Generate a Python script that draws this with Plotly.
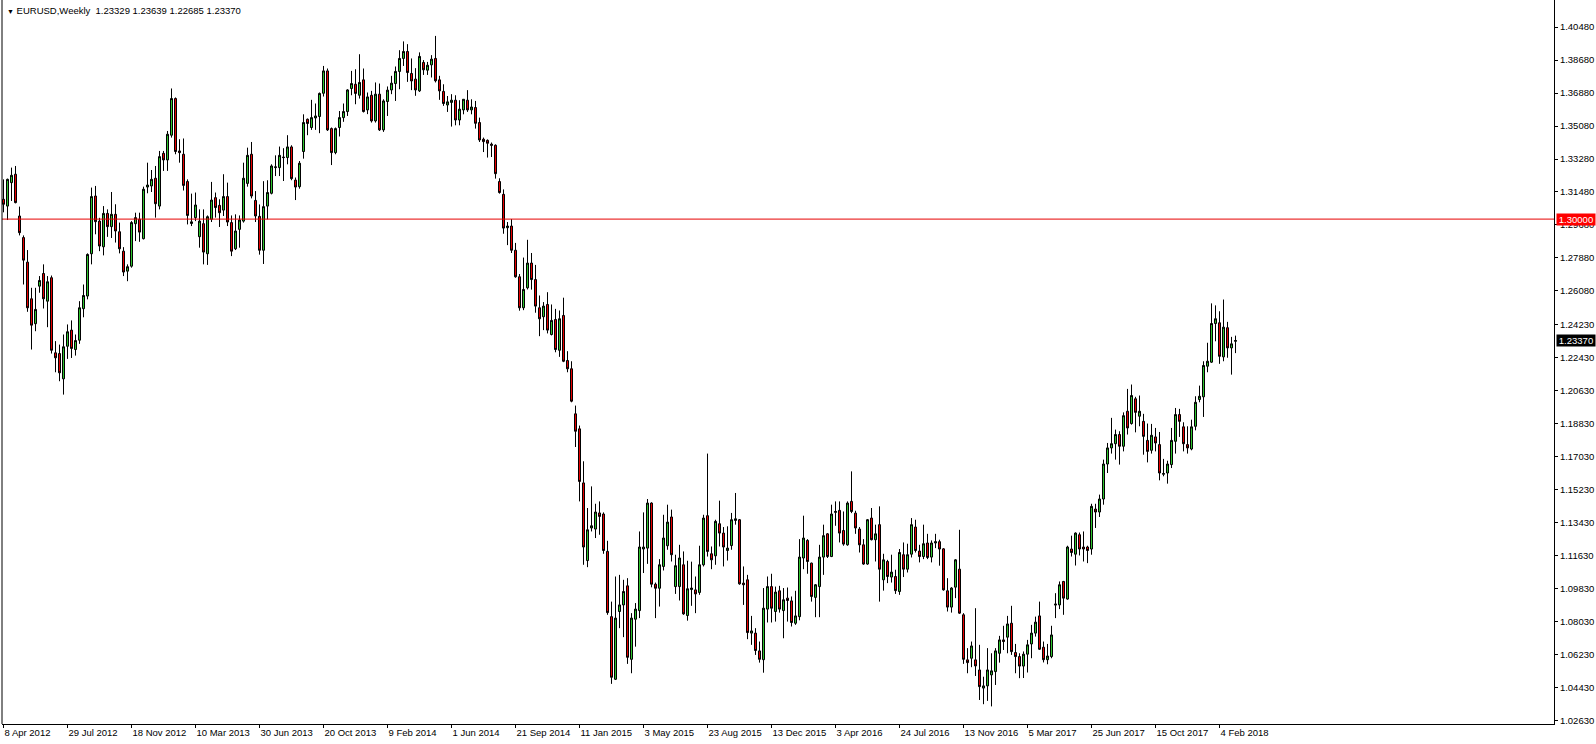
import pandas as pd
import plotly.graph_objects as go

# ---- data (EURUSD weekly) ----
weeks = pd.date_range("2012-04-08", periods=309, freq="7D")

opens = [
1.3108,1.3071,1.3199,1.3245,1.3017,1.2899,1.2765,1.2565,1.2429,1.2634,
1.2703,1.2552,1.2680,1.2270,1.2266,1.2128,1.2306,1.2394,1.2288,1.2339,
1.2511,1.2580,1.2811,1.3126,1.2989,1.2849,1.3031,1.2959,1.3026,1.2931,
1.2825,1.2716,1.2743,1.2975,1.2999,1.2893,1.3175,1.3181,1.3223,1.3071,
1.3359,1.3323,1.3458,1.3658,1.3372,1.3354,1.3205,1.2976,1.3008,1.2904,
1.2975,1.2811,1.2999,1.3117,1.3075,1.3049,1.3123,1.2981,1.2838,1.2944,
1.2989,1.3195,1.3354,1.3102,1.3015,1.2830,1.3071,1.3141,1.3281,1.3281,
1.3339,1.3336,1.3394,1.3213,1.3177,1.3369,1.3545,1.3500,1.3552,1.3560,
1.3687,1.3809,1.3494,1.3363,1.3500,1.3554,1.3587,1.3713,1.3736,1.3676,
1.3760,1.3596,1.3676,1.3536,1.3682,1.3487,1.3642,1.3705,1.3740,1.3806,
1.3877,1.3915,1.3795,1.3764,1.3700,1.3855,1.3813,1.3842,1.3877,1.3760,
1.3697,1.3623,1.3637,1.3649,1.3541,1.3596,1.3649,1.3596,1.3609,1.3527,
1.3436,1.3430,1.3409,1.3403,1.3205,1.3135,1.2953,1.2962,1.2830,1.2685,
1.2516,1.2625,1.2760,1.2670,1.2516,1.2467,1.2534,1.2370,1.2452,1.2284,
1.2474,1.2228,1.2183,1.1937,1.1855,1.1560,1.1136,1.1314,1.1308,1.1396,
1.1390,1.1186,1.0830,1.0488,1.0858,1.0894,1.0998,1.0597,1.0816,1.0863,
1.1199,1.1204,1.1450,1.1007,1.0985,1.1104,1.1217,1.1374,1.0994,1.0994,
1.1113,1.0836,1.0978,1.0976,1.0962,1.1113,1.1381,1.1173,1.1162,1.1337,
1.1286,1.1191,1.1218,1.1355,1.1359,1.1013,1.1031,1.0740,1.0740,1.0643,
1.0595,1.0871,1.0994,1.0858,1.0971,1.0863,1.0931,1.0916,1.0794,1.0830,
1.1150,1.1246,1.1122,1.0935,1.0994,1.1155,1.1282,1.1158,1.1399,1.1410,
1.1300,1.1222,1.1459,1.1395,1.1308,1.1222,1.1117,1.1368,1.1250,1.1332,
1.1031,1.1131,1.1046,1.1049,1.0967,1.1168,1.1089,1.1171,1.1319,1.1188,
1.1158,1.1232,1.1155,1.1232,1.1239,1.1200,1.0971,1.0882,1.0991,1.1089,
1.0840,1.0594,1.0603,1.0594,1.0539,1.0440,1.0452,1.0512,1.0530,1.0630,
1.0703,1.0718,1.0794,1.0634,1.0612,1.0560,1.0625,1.0681,1.0740,1.0834,
1.0663,1.0595,1.0612,1.0893,1.0894,1.1022,1.0926,1.1199,1.1171,1.1277,
1.1210,1.1210,1.1199,1.1417,1.1401,1.1472,1.1663,1.1751,1.1774,1.1824,
1.1760,1.1951,1.1884,1.2019,1.1924,1.1896,1.1792,1.1738,1.1811,1.1769,
1.1607,1.1614,1.1660,1.1787,1.1933,1.1866,1.1769,1.1745,1.1869,1.2015,
1.2030,1.2197,1.2219,1.2430,1.2434,1.2248,1.2407,1.2297,1.23329]

highs = [
1.3217,1.3221,1.3281,1.3290,1.3068,1.2911,1.2831,1.2625,1.2625,1.2689,
1.2753,1.2689,1.2692,1.2334,1.2315,1.2370,1.2425,1.2447,1.2370,1.2552,
1.2643,1.2813,1.3172,1.3181,1.3007,1.3071,1.3053,1.3148,1.3081,1.2981,
1.2847,1.2753,1.2989,1.3035,1.3035,1.3177,1.3308,1.3268,1.3290,1.3372,
1.3372,1.3481,1.3713,1.3664,1.3436,1.3440,1.3217,1.3139,1.3145,1.3053,
1.3053,1.3020,1.3203,1.3145,1.3108,1.3245,1.3199,1.3020,1.3026,1.3020,
1.3308,1.3390,1.3421,1.3153,1.3080,1.3207,1.3212,1.3299,1.3348,1.3396,
1.3387,1.3458,1.3403,1.3227,1.3317,1.3572,1.3549,1.3651,1.3631,1.3691,
1.3836,1.3822,1.3500,1.3500,1.3590,1.3631,1.3709,1.3809,1.3818,1.3900,
1.3822,1.3691,1.3700,1.3746,1.3740,1.3654,1.3724,1.3782,1.3833,1.3922,
1.3970,1.3955,1.3877,1.3824,1.3910,1.3868,1.3858,1.3895,1.4000,1.3782,
1.3736,1.3672,1.3682,1.3676,1.3649,1.3654,1.3704,1.3654,1.3645,1.3554,
1.3445,1.3435,1.3418,1.3408,1.3223,1.3162,1.2984,1.3000,1.2870,1.2700,
1.2790,1.2887,1.2815,1.2750,1.2583,1.2547,1.2601,1.2534,1.2510,1.2501,
1.2571,1.2279,1.2224,1.1982,1.1873,1.1678,1.1423,1.1541,1.1446,1.1459,
1.1399,1.1244,1.0912,1.1049,1.1058,1.1031,1.1040,1.0849,1.0904,1.1295,
1.1399,1.1472,1.1454,1.1016,1.1144,1.1386,1.1441,1.1414,1.1168,1.1222,
1.1186,1.1135,1.1130,1.1049,1.1217,1.1386,1.1720,1.1213,1.1359,1.1463,
1.1319,1.1323,1.1396,1.1505,1.1363,1.1104,1.1058,1.0834,1.0767,1.0694,
1.0986,1.1049,1.1064,1.0994,1.0998,1.0986,1.0989,1.0940,1.0971,1.1253,
1.1381,1.1253,1.1125,1.1008,1.1222,1.1332,1.1286,1.1441,1.1459,1.1459,
1.1404,1.1459,1.1623,1.1408,1.1319,1.1253,1.1363,1.1423,1.1332,1.1432,
1.1173,1.1140,1.1168,1.1086,1.1199,1.1235,1.1228,1.1368,1.1359,1.1222,
1.1332,1.1282,1.1246,1.1282,1.1250,1.1204,1.1040,1.0991,1.1144,1.1304,
1.0849,1.0658,1.0694,1.0876,1.0676,1.0502,1.0658,1.0630,1.0658,1.0725,
1.0780,1.0834,1.0889,1.0681,1.0630,1.0640,1.0703,1.0785,1.0830,1.0912,
1.0694,1.0681,1.0780,1.0958,1.1022,1.1025,1.1217,1.1272,1.1290,1.1289,
1.1295,1.1217,1.1446,1.1446,1.1496,1.1687,1.1778,1.1915,1.1851,1.1842,
1.1945,1.2073,1.2097,1.2030,1.2037,1.1937,1.1884,1.1882,1.1860,1.1838,
1.1691,1.1681,1.1860,1.1969,1.1964,1.1891,1.1869,1.1905,1.2033,1.2091,
1.2224,1.2325,1.2540,1.2529,1.2497,1.2561,1.2439,1.2357,1.23639]

lows = [
1.3037,1.2995,1.3099,1.3086,1.2911,1.2643,1.2494,1.2288,1.2388,1.2598,
1.2512,1.2410,1.2266,1.2164,1.2115,1.2042,1.2237,1.2242,1.2255,1.2319,
1.2464,1.2562,1.2753,1.2917,1.2825,1.2802,1.2903,1.2897,1.2872,1.2813,
1.2689,1.2661,1.2735,1.2880,1.2876,1.2889,1.3141,1.3148,1.3008,1.3053,
1.3263,1.3263,1.3445,1.3354,1.3308,1.3156,1.2971,1.2962,1.2989,1.2844,
1.2753,1.2750,1.2984,1.3008,1.2957,1.3017,1.2962,1.2798,1.2831,1.2844,
1.2981,1.3177,1.3113,1.2984,1.2806,1.2755,1.2999,1.3135,1.3235,1.3235,
1.3208,1.3299,1.3212,1.3104,1.3166,1.3330,1.3458,1.3487,1.3487,1.3469,
1.3669,1.3481,1.3295,1.3354,1.3451,1.3531,1.3563,1.3676,1.3627,1.3658,
1.3582,1.3573,1.3527,1.3527,1.3481,1.3476,1.3563,1.3682,1.3645,1.3709,
1.3836,1.3749,1.3704,1.3673,1.3694,1.3787,1.3787,1.3773,1.3746,1.3651,
1.3618,1.3585,1.3505,1.3512,1.3512,1.3572,1.3585,1.3572,1.3494,1.3421,
1.3366,1.3336,1.3339,1.3221,1.3139,1.2920,1.2858,1.2815,1.2680,1.2500,
1.2503,1.2616,1.2615,1.2489,1.2361,1.2394,1.2376,1.2365,1.2273,1.2248,
1.2219,1.2164,1.2000,1.1756,1.1459,1.1113,1.1100,1.1295,1.1259,1.1277,
1.1173,1.0840,1.0463,1.0484,1.0767,1.0718,1.0572,1.0521,1.0666,1.0822,
1.1068,1.1118,1.0990,1.0822,1.0885,1.1082,1.1195,1.1131,1.0954,1.0918,
1.0840,1.0808,1.0889,1.0849,1.0949,1.1104,1.1158,1.1089,1.1113,1.1213,
1.1104,1.1136,1.1195,1.1332,1.1004,1.0894,1.0707,1.0676,1.0621,1.0579,
1.0524,1.0798,1.0798,1.0803,1.0852,1.0712,1.0803,1.0776,1.0785,1.0810,
1.1089,1.1064,1.0912,1.0827,1.0827,1.1058,1.1150,1.1155,1.1326,1.1235,
1.1217,1.1217,1.1395,1.1282,1.1180,1.1113,1.1113,1.1246,1.1131,1.0912,
1.0972,1.1013,1.1016,1.0954,1.0949,1.1046,1.1071,1.1153,1.1180,1.1126,
1.1144,1.1144,1.1126,1.1204,1.1108,1.0972,1.0858,1.0852,1.0931,1.0845,
1.0572,1.0521,1.0554,1.0506,1.0375,1.0352,1.0370,1.0340,1.0457,1.0579,
1.0648,1.0630,1.0621,1.0521,1.0494,1.0495,1.0525,1.0603,1.0721,1.0648,
1.0580,1.0570,1.0603,1.0822,1.0871,1.0840,1.0922,1.1158,1.1109,1.1164,
1.1131,1.1122,1.1168,1.1314,1.1374,1.1441,1.1614,1.1720,1.1687,1.1660,
1.1732,1.1824,1.1878,1.1836,1.1869,1.1714,1.1672,1.1720,1.1732,1.1574,
1.1596,1.1556,1.1641,1.1720,1.1811,1.1732,1.1720,1.1738,1.1847,1.2000,
1.1920,1.2164,1.2215,1.2333,1.2210,1.2224,1.2243,1.2151,1.22685]

closes = [
1.3081,1.3217,1.3239,1.3090,1.2926,1.2776,1.2516,1.2421,1.2507,1.2665,
1.2565,1.2658,1.2284,1.2243,1.2161,1.2303,1.2385,1.2294,1.2337,1.2516,
1.2583,1.2807,1.3123,1.2986,1.2853,1.3031,1.2959,1.3026,1.2935,1.2838,
1.2711,1.2740,1.2981,1.3008,1.2929,1.3163,1.3186,1.3217,1.3084,1.3341,
1.3323,1.3463,1.3658,1.3369,1.3363,1.3184,1.3020,1.2985,1.3077,1.2989,
1.2820,1.3013,1.3104,1.3063,1.3035,1.3123,1.2984,1.2825,1.2935,1.2995,
1.3223,1.3348,1.3126,1.3017,1.2830,1.3068,1.3145,1.3290,1.3285,1.3348,
1.3336,1.3394,1.3221,1.3175,1.3305,1.3527,1.3522,1.3554,1.3563,1.3686,
1.3809,1.3487,1.3363,1.3494,1.3554,1.3587,1.3705,1.3740,1.3686,1.3746,
1.3587,1.3667,1.3536,1.3682,1.3487,1.3645,1.3704,1.3742,1.3806,1.3877,
1.3915,1.3800,1.3754,1.3705,1.3888,1.3815,1.3840,1.3873,1.3755,1.3700,
1.3631,1.3640,1.3649,1.3541,1.3600,1.3654,1.3596,1.3612,1.3523,1.3432,
1.3423,1.3414,1.3403,1.3248,1.3145,1.2951,1.2962,1.2830,1.2685,1.2516,
1.2616,1.2760,1.2670,1.2525,1.2456,1.2525,1.2394,1.2447,1.2288,1.2456,
1.2224,1.2183,1.2006,1.1842,1.1568,1.1210,1.1304,1.1326,1.1401,1.1377,
1.1191,1.0852,1.0499,1.0822,1.0894,1.0967,1.0608,1.0822,1.0871,1.1210,
1.1210,1.1450,1.1007,1.0985,1.1113,1.1259,1.1346,1.1168,1.1108,1.1150,
1.0845,1.0982,1.0986,1.0954,1.1113,1.1368,1.1186,1.1140,1.1350,1.1286,
1.1210,1.1204,1.1359,1.1364,1.1009,1.1004,1.0743,1.0752,1.0645,1.0597,
1.0876,1.0994,1.0876,1.0964,1.0871,1.0922,1.0918,1.0798,1.0834,1.1155,
1.1259,1.1131,1.0940,1.1004,1.1155,1.1272,1.1158,1.1390,1.1404,1.1286,
1.1226,1.1450,1.1404,1.1314,1.1222,1.1117,1.1359,1.1250,1.1282,1.1089,
1.1140,1.1049,1.1073,1.0972,1.1180,1.1089,1.1168,1.1332,1.1191,1.1158,
1.1228,1.1153,1.1232,1.1239,1.1199,1.0976,1.0882,1.0986,1.1140,1.0849,
1.0597,1.0579,1.0670,1.0561,1.0448,1.0452,1.0539,1.0534,1.0643,1.0703,
1.0694,1.0790,1.0639,1.0612,1.0560,1.0625,1.0676,1.0740,1.0800,1.0652,
1.0595,1.0615,1.0730,1.0898,1.1004,1.0931,1.1210,1.1180,1.1286,1.1199,
1.1199,1.1191,1.1432,1.1401,1.1472,1.1663,1.1751,1.1774,1.1824,1.1760,
1.1927,1.1860,1.2037,1.1945,1.1951,1.1814,1.1732,1.1820,1.1778,1.1614,
1.1611,1.1663,1.1792,1.1933,1.1896,1.1774,1.1751,1.1866,1.2000,1.2033,
1.2201,1.2224,1.2430,1.2456,1.2251,1.2410,1.2297,1.2319,1.23370]

x_tick_labels = ["8 Apr 2012", "29 Jul 2012", "18 Nov 2012", "10 Mar 2013",
                 "30 Jun 2013", "20 Oct 2013", "9 Feb 2014", "1 Jun 2014",
                 "21 Sep 2014", "11 Jan 2015", "3 May 2015", "23 Aug 2015",
                 "13 Dec 2015", "3 Apr 2016", "24 Jul 2016", "13 Nov 2016",
                 "5 Mar 2017", "25 Jun 2017", "15 Oct 2017", "4 Feb 2018"]
y_tick_labels = ["1.40480", "1.38680", "1.36880", "1.35080", "1.33280", "1.31480",
                 "1.29680", "1.27880", "1.26080", "1.24230", "1.22430", "1.20630",
                 "1.18830", "1.17030", "1.15230", "1.13430", "1.11630", "1.09830",
                 "1.08030", "1.06230", "1.04430", "1.02630"]

level_price = 1.30000
header = "EURUSD,Weekly"

# ---- figure ----
idx = list(range(len(weeks)))
week_pos = {d.strftime("%-d %b %Y"): i for i, d in enumerate(weeks)}
x_tick_vals = [week_pos[lbl] for lbl in x_tick_labels]
y_tick_vals = [float(v) for v in y_tick_labels]

FONT = "Liberation Sans, Arial, sans-serif"
GREEN = "#2ec42e"
RED = "#e60000"

fig = go.Figure()
fig.add_trace(go.Candlestick(
    x=idx, open=opens, high=highs, low=lows, close=closes,
    text=[d.strftime("%Y-%m-%d") for d in weeks],
    increasing=dict(fillcolor=GREEN, line=dict(color="black", width=1)),
    decreasing=dict(fillcolor=RED, line=dict(color="black", width=1)),
    whiskerwidth=0, showlegend=False,
))

fig.add_shape(type="line", xref="paper", x0=0, x1=1, yref="y",
              y0=level_price, y1=level_price, line=dict(color="#e60000", width=1))
fig.add_shape(type="line", xref="paper", x0=0, x1=0, yref="paper",
              y0=0, y1=1, line=dict(color="black", width=1))

last_close = closes[-1]
fig.add_annotation(xref="paper", x=1, xanchor="left", xshift=2, yref="y",
                   y=level_price, yanchor="middle", text=f"{level_price:.5f}",
                   showarrow=False, bgcolor="#ff0000", borderpad=0,
                   width=38, height=11, font=dict(family=FONT, size=9.5, color="white"))
fig.add_annotation(xref="paper", x=1, xanchor="left", xshift=2, yref="y",
                   y=last_close, yanchor="middle", text=f"{last_close:.5f}",
                   showarrow=False, bgcolor="black", borderpad=0,
                   width=38, height=11, font=dict(family=FONT, size=9.5, color="white"))

hdr = ("<span style='font-size:7px'>\u25bc</span>\u00a0" + header + "\u00a0\u00a0"
       + f"{opens[-1]:.5f} {highs[-1]:.5f} {lows[-1]:.5f} {closes[-1]:.5f}")
fig.add_annotation(xref="paper", x=0, xanchor="left", xshift=3, yref="paper",
                   y=1, yanchor="top", yshift=-3, text=hdr, showarrow=False,
                   font=dict(family=FONT, size=9.5, color="black"))

fig.update_layout(
    width=1596, height=744,
    margin=dict(l=2, r=42, t=0, b=20),
    paper_bgcolor="white", plot_bgcolor="white",
    font=dict(family=FONT, size=9.5, color="black"),
    boxgap=0.5, boxgroupgap=0,
    xaxis=dict(range=[-0.375, 387.625], rangeslider=dict(visible=False),
               showgrid=False, zeroline=False, showline=True, linecolor="black",
               linewidth=1, ticks="outside", ticklen=3, tickcolor="black",
               tickvals=x_tick_vals, ticktext=x_tick_labels,
               ticklabelposition="outside right", tickfont=dict(size=9.5)),
    yaxis=dict(range=[1.02439, 1.41960], side="right", showgrid=False,
               zeroline=False, showline=True, linecolor="black", linewidth=1,
               ticks="outside", ticklen=3, tickcolor="black",
               tickvals=y_tick_vals, ticktext=y_tick_labels,
               tickfont=dict(size=9.5)),
    hovermode=False,
)

fig.write_html("out.html", config={"displayModeBar": False},
               post_script="document.body.style.margin='0';document.body.style.padding='0';")
